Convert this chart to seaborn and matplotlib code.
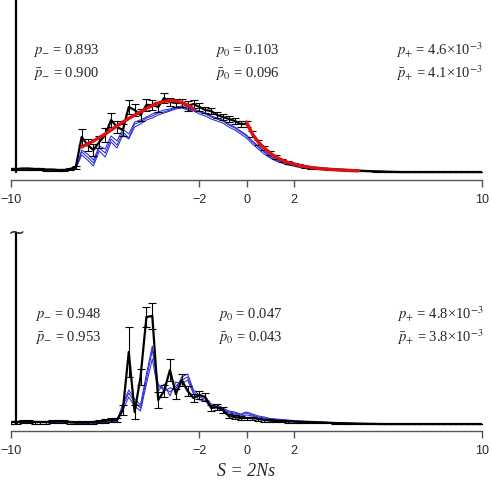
import numpy as np
import matplotlib
matplotlib.use("Agg")
import matplotlib.pyplot as plt
import seaborn as sns

sns.set_style("white")
plt.rcParams['font.family'] = ['Liberation Serif', 'DejaVu Serif']
plt.rcParams['mathtext.fontset'] = 'stix'

# bin centres of S = 2Ns (step 0.25)
s_grid = np.arange(-10, 10.001, 0.25)

# point mass at the far left (drawn as a vertical stick, truncated)
spike_s = -9.78
top_spike = 400
bot_spike = 191

# ---- top panel ----
top_black = [3, 3,
             3.5, 3.5, 3, 3, 2.5, 2.5, 2, 2, 3, 5,
             35, 27, 22, 30, 37, 52, 45, 42, 65, 62, 57, 67, 67, 65, 74, 70, 69, 69, 66, 68,
             65, 62, 61, 57, 55, 53, 51, 48,
             48, 38, 30, 24, 19, 15, 12, 10, 8.5, 7, 5.5, 4.5, 4, 3.5, 3, 2.7, 2.4, 2, 1.7, 1.4,
             1.1, 0.9, 0.7, 0.5, 0.3, 0.2, 0, 0, 0, 0, 0, 0, 0, 0, 0, 0, 0, 0, 0, 0, 0]
top_err = [1, 1,
           1, 1, 1, 1, 1, 1, 1, 1, 1, 1.5,
           8, 6, 6, 6, 7, 7, 6, 6, 7, 6, 6, 6, 5, 5, 5, 4, 4, 4, 5, 4,
           4, 3, 3, 3, 3, 3, 3, 3,
           3, 3, 2.5, 2, 2, 2, 1.5, 1.5, 1, 1, 1, 1, 1, 0.8, 0.8, 0.6, 0.5, 0.5, 0.4, 0.4,
           0.3, 0.3, 0.2, 0.2, 0, 0, 0, 0, 0, 0, 0, 0, 0, 0, 0, 0, 0, 0, 0, 0, 0]
top_blue1 = [2, 2, 2, 2, 2, 1.5, 1.5, 1.5, 1.5, 1.5, 2, 3,
             20, 15, 9, 24, 19, 33, 27, 40, 34, 48, 50, 54, 56, 59, 60, 62, 64, 65, 63, 62,
             60, 58, 55, 53, 51, 47, 44, 40,
             36, 30, 25, 20, 15, 12, 10, 8, 6.5, 5, 4, 3.5, 3, 2.5, 2, 1.7, 1.4, 1.2, 1, 0.8,
             0.6, 0.5, 0.4, 0.3, 0.2, 0.1, 0, 0, 0, 0, 0, 0, 0, 0, 0, 0, 0, 0, 0, 0, 0]
top_blue2 = [2, 2, 2, 2, 2, 1.5, 1.5, 1.5, 1.5, 1.5, 2, 3,
             17, 12, 6, 21, 15, 30, 24, 37, 33, 45, 48, 52, 54, 57, 59, 61, 63, 64, 62, 61,
             58, 56, 53, 51, 49, 45, 42, 38,
             34, 28, 23, 18, 14, 11, 9, 7, 6, 4.5, 3.5, 3, 2.5, 2, 1.8, 1.5, 1.2, 1, 0.8, 0.6,
             0.5, 0.4, 0.3, 0.2, 0.1, 0, 0, 0, 0, 0, 0, 0, 0, 0, 0, 0, 0, 0, 0, 0, 0]
top_blue3 = [2, 2, 2, 2, 2, 1.5, 1.5, 1.5, 1.5, 1.5, 2, 3,
             22, 18, 12, 26, 23, 36, 31, 43, 38, 50, 52, 55, 58, 60, 62, 63, 65, 66, 64, 63,
             61, 59, 56, 54, 52, 48, 45, 41,
             37, 31, 26, 21, 16, 13, 10.5, 8.5, 7, 5.5, 4.5, 3.8, 3.2, 2.7, 2.2, 1.8, 1.5, 1.2, 1, 0.8,
             0.6, 0.5, 0.4, 0.3, 0.2, 0.1, 0, 0, 0, 0, 0, 0, 0, 0, 0, 0, 0, 0, 0, 0, 0]
# fitted curves (S from -7 to -2.25 and from 0 to 4.75)
top_red1 = [25, 28, 31, 34.5, 38, 42, 46, 50, 53.5, 57, 60, 63.5, 66.5, 69, 70.5, 71.5, 71, 69.5, 67, 63]
top_red2 = [50, 38, 30, 24, 19, 15, 12, 9.5, 8, 6.5, 5.5, 4.5, 3.8, 3.2, 2.7, 2.3, 2, 1.7, 1.4, 1.2]

# ---- bottom panel ----
bot_black = [2, 2,
             2.5, 2.5, 2, 2, 2, 2.5, 3, 2.5, 2, 1.5, 1.5, 1.5, 2, 2.5, 3, 4,
             4,
             14, 72, 12, 47, 107, 108, 24, 33, 54, 30, 44, 33, 26, 29, 27, 16, 17, 14, 8, 7, 6,
             6, 6, 5, 4, 3.5, 3, 3, 2.5, 2.5, 2, 2, 1.8, 1.5, 1.3, 1.1, 1, 0.8, 0.6, 0.5, 0.4, 0.3, 0.2, 0.1,
             0, 0, 0, 0, 0, 0, 0, 0, 0, 0, 0, 0, 0, 0, 0, 0, 0, 0]
bot_err = [1.5, 1.5,
           1.5, 1.5, 1.5, 1.5, 1.5, 1.5, 1.5, 1.5, 1.5, 1.5, 1.5, 1.5, 1.5, 1.5, 2, 2,
           2,
           5, 25, 7, 8, 10, 13, 8, 6, 11, 5, 6, 5, 4, 4, 4, 3, 3, 3, 2, 2, 2,
           1.5, 1.5, 1.5, 1.5, 1.2, 1.2, 1, 1, 1, 0.8, 0.8, 0.8, 0.6, 0.6, 0.5, 0.5, 0.4, 0.4, 0.3, 0.3, 0.3, 0.2, 0.2,
           0, 0, 0, 0, 0, 0, 0, 0, 0, 0, 0, 0, 0, 0, 0, 0, 0, 0]
bot_blue1 = [1.5, 1.5, 1.5, 1.5, 1.5, 1.5, 1.5, 1.5, 1.5, 1.5, 1.5, 1, 1, 1, 1, 1, 1.5, 2, 3,
             18, 31, 22, 16, 45, 74, 37, 36, 32, 38, 44, 47, 32, 27, 25, 18, 17, 15, 12, 11, 9,
             11, 9, 7, 6, 5, 4.5, 4, 3.5, 3, 3, 2.5, 2.5, 2, 2, 1.5, 1.2, 1, 0.8, 0.6, 0.4, 0.3, 0.2, 0.1,
             0, 0, 0, 0, 0, 0, 0, 0, 0, 0, 0, 0, 0, 0, 0, 0, 0, 0]
bot_blue2 = [1.5, 1.5, 1.5, 1.5, 1.5, 1.5, 1.5, 1.5, 1.5, 1.5, 1.5, 1, 1, 1, 1, 1, 1.5, 2, 2.5,
             14, 27, 18, 13, 40, 65, 33, 40, 28, 42, 40, 44, 30, 24, 23, 16, 16, 13, 11, 10, 8,
             9, 8, 6, 5, 4.5, 4, 3.5, 3, 2.8, 2.5, 2.2, 2, 1.8, 1.5, 1.2, 1, 0.8, 0.6, 0.5, 0.3, 0.2, 0.1, 0,
             0, 0, 0, 0, 0, 0, 0, 0, 0, 0, 0, 0, 0, 0, 0, 0, 0, 0]
bot_blue3 = [1.5, 1.5, 1.5, 1.5, 1.5, 1.5, 1.5, 1.5, 1.5, 1.5, 1.5, 1, 1, 1, 1, 1, 1.5, 2, 3.5,
             20, 34, 25, 19, 50, 78, 40, 33, 36, 35, 47, 50, 34, 29, 27, 20, 19, 16, 13, 12, 10,
             12, 10, 8, 7, 5.5, 5, 4.5, 4, 3.5, 3, 2.8, 2.5, 2.2, 2, 1.7, 1.4, 1.1, 0.9, 0.7, 0.5, 0.3, 0.2, 0.1,
             0, 0, 0, 0, 0, 0, 0, 0, 0, 0, 0, 0, 0, 0, 0, 0, 0, 0]

xticks = [-10, -2, 0, 2, 10]
top_labels = [(r"$p_{-}$ = 0.893", r"$\bar{p}_{-}$ = 0.900"),
              (r"$p_{0}$ = 0.103", r"$\bar{p}_{0}$ = 0.096"),
              (r"$p_{+}$ = 4.6×10$^{-3}$", r"$\bar{p}_{+}$ = 4.1×10$^{-3}$")]
bot_labels = [(r"$p_{-}$ = 0.948", r"$\bar{p}_{-}$ = 0.953"),
              (r"$p_{0}$ = 0.047", r"$\bar{p}_{0}$ = 0.043"),
              (r"$p_{+}$ = 4.8×10$^{-3}$", r"$\bar{p}_{+}$ = 3.8×10$^{-3}$")]

BLUE = "#2b2bd6"
RED = "#e01010"

fig = plt.figure(figsize=(4.92, 4.88), dpi=100)
ax_top = fig.add_axes([11/492, 1 - 180/488, 471/492, 180/488])
ax_bot = fig.add_axes([11/492, 1 - 431/488, 471/492, 203/488])


def draw_panel(ax, black, err, blues, spike, ylim, labels, ypos, xpos):
    for b in blues:
        sns.lineplot(x=s_grid, y=b, ax=ax, color=BLUE, lw=0.75, estimator=None, sort=False)
    ax.errorbar(s_grid, black, yerr=err, fmt="none", ecolor="black", elinewidth=0.8,
                capsize=3, capthick=0.8, zorder=3)
    sns.lineplot(x=s_grid, y=black, ax=ax, color="black", lw=1.6, estimator=None, sort=False, zorder=4)
    sns.lineplot(x=[spike_s, spike_s], y=[0, spike], ax=ax, color="black", lw=1.6,
                 estimator=None, sort=False, zorder=4)
    ax.set_xlim(-10, 10)
    ax.set_ylim(*ylim)
    for sp in ["left", "right", "top"]:
        ax.spines[sp].set_visible(False)
    ax.spines["bottom"].set_color("#555555")
    ax.spines["bottom"].set_linewidth(1.0)
    ax.set_yticks([])
    ax.set_xticks(xticks)
    ax.set_xticklabels(["\u221210", "\u22122", "0", "2", "10"], family="Liberation Sans", fontsize=9)
    ax.tick_params(axis="x", direction="out", length=5, width=1.0, color="#555555", pad=5, bottom=True)
    for (l1, l2), xp in zip(labels, xpos):
        ax.text(xp, ypos[0], l1, transform=ax.transAxes, fontsize=10.5, va="center", ha="left")
        ax.text(xp, ypos[1], l2, transform=ax.transAxes, fontsize=10.5, va="center", ha="left")
    ax.patch.set_alpha(0)


draw_panel(ax_top, top_black, top_err, [top_blue1, top_blue2, top_blue3], top_spike, (-8, 172),
           top_labels, (0.722, 0.594), (0.047, 0.433, 0.817))
sns.lineplot(x=s_grid[12:32], y=top_red1, ax=ax_top, color=RED, lw=2.4, estimator=None, sort=False, zorder=5)
sns.lineplot(x=s_grid[40:60], y=top_red2, ax=ax_top, color=RED, lw=2.4, estimator=None, sort=False, zorder=5)

draw_panel(ax_bot, bot_black, bot_err, [bot_blue1, bot_blue2, bot_blue3], bot_spike, (-7, 196),
           bot_labels, (0.576, 0.463), (0.051, 0.44, 0.82))
# break mark on the truncated stick
ax_bot.text(spike_s, bot_spike, "~", fontsize=15, ha="center", va="center",
            family="DejaVu Sans", zorder=6)

fig.text(246/492, 1 - 472/488, "S = 2Ns", fontsize=13, style="italic", ha="center", va="center")

fig.savefig("out.png", dpi=100)
